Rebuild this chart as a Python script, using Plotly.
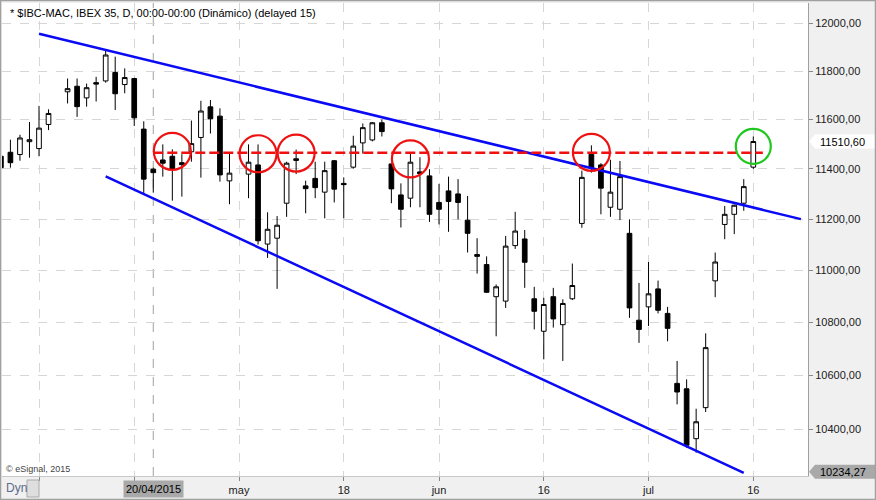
import numpy as np
import pandas as pd
import plotly.graph_objects as go

# %% DATA
# chart slots: every business day, Good Friday has no slot, Easter Monday and 1 May are empty
dates = [d.strftime('%Y-%m-%d') for d in pd.bdate_range('2015-03-26', '2015-07-24')
         if d.strftime('%Y-%m-%d') != '2015-04-03']

open_ = [11451, 11467, 11458, 11510, 11482, 11580, None, 11714, 11737, 11689,
         11752, 11759, 11794, 11744, 11769, 11561, 11399, 11436, 11451, 11425,
         11469, 11527, 11652, 11614, 11352, None, 11379, 11416, 11102, 11125,
         11263, 11434, 11332, 11362, 11307, 11433, 11342, 11407, 11505, 11517,
         11587, 11420, 11296, 11283, 11388, 11372, 11266, 11312, 11300, 11196,
         11061, 11022, 10898, 10881, 11096, 11122, 10890, 10766, 10898, 10791,
         10890, 11183, 11459, 11416, 11247, 11239, 11144, 10808, 10859, 10928,
         10834, 10570, 10550, 10366, 10480, 10959, 11179, 11219, 11263, 11407]
high = [11460, 11518, 11538, 11590, 11656, 11642, None, 11769, 11769, 11748,
        11776, 11888, 11860, 11811, 11772, 11593, 11405, 11499, 11479, 11459,
        11596, 11677, 11680, 11646, 11461, None, 11499, 11499, 11227, 11212,
        11429, 11478, 11353, 11429, 11429, 11436, 11366, 11534, 11584, 11590,
        11600, 11422, 11342, 11461, 11447, 11399, 11340, 11369, 11359, 11292,
        11125, 11054, 10945, 11134, 11229, 11157, 10936, 10894, 10932, 10888,
        11026, 11393, 11495, 11423, 11437, 11432, 11199, 10951, 11032, 10960,
        10859, 10654, 10585, 10476, 10758, 11069, 11252, 11257, 11359, 11531]
low = [11395, 11405, 11433, 11445, 11451, 11557, None, 11666, 11611, 11653,
       11674, 11752, 11639, 11708, 11574, 11299, 11305, 11369, 11273, 11289,
       11429, 11365, 11543, 11349, 11259, None, 11283, 11100, 11048, 10928,
       11209, 11379, 11223, 11283, 11203, 11266, 11203, 11401, 11462, 11511,
       11531, 11263, 11167, 11247, 11247, 11189, 11179, 11150, 11199, 11069,
       10987, 10912, 10747, 10855, 11083, 10932, 10773, 10660, 10780, 10654,
       10885, 11166, 11385, 11219, 11209, 11196, 10817, 10722, 10786, 10834,
       10728, 10492, 10333, 10315, 10464, 10896, 11121, 11141, 11233, 11400]
close = [11405, 11425, 11525, 11518, 11565, 11625, None, 11727, 11653, 11731,
         11746, 11867, 11706, 11773, 11607, 11359, 11385, 11423, 11399, 11417,
         11502, 11635, 11603, 11376, 11383, None, 11427, 11115, 11160, 11176,
         11423, 11441, 11321, 11325, 11393, 11319, 11337, 11492, 11567, 11587,
         11551, 11320, 11239, 11427, 11381, 11219, 11239, 11270, 11266, 11144,
         11054, 10915, 10936, 11094, 11153, 11031, 10842, 10868, 10813, 10872,
         10941, 11366, 11403, 11323, 11307, 11369, 10855, 10773, 10909, 10846,
         10777, 10538, 10342, 10428, 10704, 11032, 11219, 11255, 11329, 11510.60]

tick_dates = ['2015-04-01', '2015-04-16', '2015-05-01', '2015-05-18',
              '2015-06-01', '2015-06-16', '2015-07-01', '2015-07-16']
tick_text = ['', '', 'may', '18', 'jun', '16', 'jul', '16']
price_ticks = [10400, 10600, 10800, 11000, 11200, 11400, 11600, 11800, 12000]

upper_dates = ['2015-04-01', '2015-07-23']
upper_prices = [11956, 11200]
lower_dates = ['2015-04-13', '2015-07-15']
lower_prices = [11370, 10242]
level_dates = ['2015-04-20', '2015-07-17']
level_price = 11465
circle_dates = ['2015-04-22', '2015-05-05', '2015-05-11', '2015-05-27', '2015-06-23']
circle_prices = [11471, 11461, 11464, 11440, 11467]
green_dates = ['2015-07-16']
green_prices = [11491]

cursor_date = '2015-04-20'
last_price = 11510.60
axis_low = 10234.27

title = '* $IBC-MAC, IBEX 35, D, 00:00-00:00 (Dinámico) (delayed 15)'

# %% FRAME
pos = {d: i for i, d in enumerate(dates)}

df = pd.DataFrame({'date': dates[:len(open_)], 'open': open_, 'high': high,
                   'low': low, 'close': close}).dropna()
df['x'] = df['date'].map(pos)

W, H = 876, 500
L, R, T, B = 2, 68, 3, 24
pw, ph = W - L - R, H - T - B
y_lo, y_hi = 4.0099, 4.0823


def px_x(px):
    return (px - L) / pw


def px_y(py):
    return (H - B - py) / ph


def price_y(p):
    return (np.log10(p) - y_lo) / (y_hi - y_lo)


FONT = 'Liberation Sans, Arial, sans-serif'

fig = go.Figure()

fig.add_trace(go.Candlestick(
    x=df['x'], open=df['open'], high=df['high'], low=df['low'], close=df['close'],
    increasing=dict(line=dict(color='black', width=1), fillcolor='white'),
    decreasing=dict(line=dict(color='black', width=1), fillcolor='black'),
    whiskerwidth=0, showlegend=False, hoverinfo='skip',
))

for xs, ys in [(upper_dates, upper_prices), (lower_dates, lower_prices)]:
    fig.add_trace(go.Scatter(
        x=[pos[d] for d in xs], y=ys, mode='lines',
        line=dict(color='#0a0af5', width=2.5), showlegend=False, hoverinfo='skip',
    ))

fig.add_trace(go.Scatter(
    x=[pos[d] for d in level_dates], y=[level_price] * len(level_dates), mode='lines',
    line=dict(color='#f01010', width=2.5, dash='10px,4px'), showlegend=False, hoverinfo='skip',
))

fig.add_trace(go.Scatter(
    x=[pos[d] for d in circle_dates], y=circle_prices, mode='markers',
    marker=dict(symbol='circle-open', size=37, color='#ee1111', line=dict(width=2.2)),
    showlegend=False, hoverinfo='skip',
))
fig.add_trace(go.Scatter(
    x=[pos[d] for d in green_dates], y=green_prices, mode='markers',
    marker=dict(symbol='circle-open', size=35, color='#1ec81e', line=dict(width=2.2)),
    showlegend=False, hoverinfo='skip',
))

# cursor line at 20/04
fig.add_shape(type='line', xref='x', yref='paper', x0=pos[cursor_date], x1=pos[cursor_date],
              y0=0, y1=1, line=dict(color='#a0a0a0', width=1, dash='dash'), layer='below')

# price marker boxes on the right axis
yc = price_y(last_price)
hh = 7 / ph
fig.add_shape(type='path', xref='paper', yref='paper',
              path=f'M {px_x(809)},{yc} L {px_x(815)},{yc + hh} L {px_x(876)},{yc + hh} '
                   f'L {px_x(876)},{yc - hh} L {px_x(815)},{yc - hh} Z',
              fillcolor='white', line=dict(width=0))
yb = px_y(471.7)
fig.add_shape(type='path', xref='paper', yref='paper',
              path=f'M {px_x(809)},{yb} L {px_x(815)},{yb + hh} L {px_x(876)},{yb + hh} '
                   f'L {px_x(876)},{yb - hh} L {px_x(815)},{yb - hh} Z',
              fillcolor='#a9a9a9', line=dict(width=0))

# lock button and outer frame
fig.add_shape(type='rect', xref='paper', yref='paper',
              x0=px_x(27), x1=px_x(39), y0=px_y(497), y1=px_y(480),
              fillcolor='#dedede', line=dict(color='#aaaaaa', width=1))
fig.add_shape(type='rect', xref='paper', yref='paper',
              x0=px_x(0.5), x1=px_x(875.5), y0=px_y(499.5), y1=px_y(0.5),
              line=dict(color='#a0a0a0', width=1.5))

ann = dict(showarrow=False, xref='paper', yref='paper')
fig.add_annotation(text=title, x=px_x(8), y=px_y(13), xanchor='left', yanchor='middle',
                   font=dict(family=FONT, size=11, color='black'), **ann)
fig.add_annotation(text='© eSignal, 2015', x=px_x(4), y=px_y(469), xanchor='left', yanchor='middle',
                   font=dict(family=FONT, size=9, color='#444444'), **ann)
fig.add_annotation(text='Dyn', x=px_x(4), y=px_y(488), xanchor='left', yanchor='middle',
                   font=dict(family=FONT, size=12, color='#5b6b8c'), **ann)
fig.add_annotation(text=f'{last_price:.2f}'.replace('.', ','), x=px_x(818), y=yc,
                   xanchor='left', yanchor='middle',
                   font=dict(family=FONT, size=11, color='black'), **ann)
fig.add_annotation(text=f'{axis_low:.2f}'.replace('.', ','), x=px_x(818), y=yb,
                   xanchor='left', yanchor='middle',
                   font=dict(family=FONT, size=11, color='black'), **ann)
fig.add_annotation(text='20/04/2015', x=pos[cursor_date], xref='x', y=px_y(489), yref='paper',
                   xanchor='center', yanchor='middle', showarrow=False, bgcolor='#a9a9a9',
                   borderpad=2, font=dict(family=FONT, size=11, color='black'))

fig.update_xaxes(
    range=[(L - 0.9) / 9.524, (W - R - 0.9) / 9.524],
    tickvals=[pos[d] for d in tick_dates], ticktext=tick_text,
    showgrid=True, gridcolor='#d6d6d6', griddash='dash', gridwidth=1,
    ticks='outside', ticklen=4, tickcolor='#888888',
    tickfont=dict(family=FONT, size=11, color='#202020'),
    showline=True, linecolor='#c8c8c8', linewidth=1,
    zeroline=False, fixedrange=True, rangeslider=dict(visible=False),
)
fig.update_yaxes(
    type='log', range=[y_lo, y_hi], side='right',
    tickvals=price_ticks, ticktext=[f'{v},00' for v in price_ticks],
    showgrid=True, gridcolor='#d6d6d6', griddash='dash', gridwidth=1,
    ticks='outside', ticklen=4, tickcolor='#888888',
    tickfont=dict(family=FONT, size=11, color='#202020'),
    showline=True, linecolor='#a0a0a0', linewidth=1,
    zeroline=False, fixedrange=True, automargin=False,
)

fig.update_layout(
    width=W, height=H,
    margin=dict(l=L, r=R, t=T, b=B, autoexpand=False),
    paper_bgcolor='#f0f0f0', plot_bgcolor='white',
    showlegend=False, dragmode=False,
)

# the page body has a default 8px margin; drop it so the figure sits at the window corner
fig.write_html('out.html', config={'displayModeBar': False},
               post_script="document.body.style.margin='0';")
